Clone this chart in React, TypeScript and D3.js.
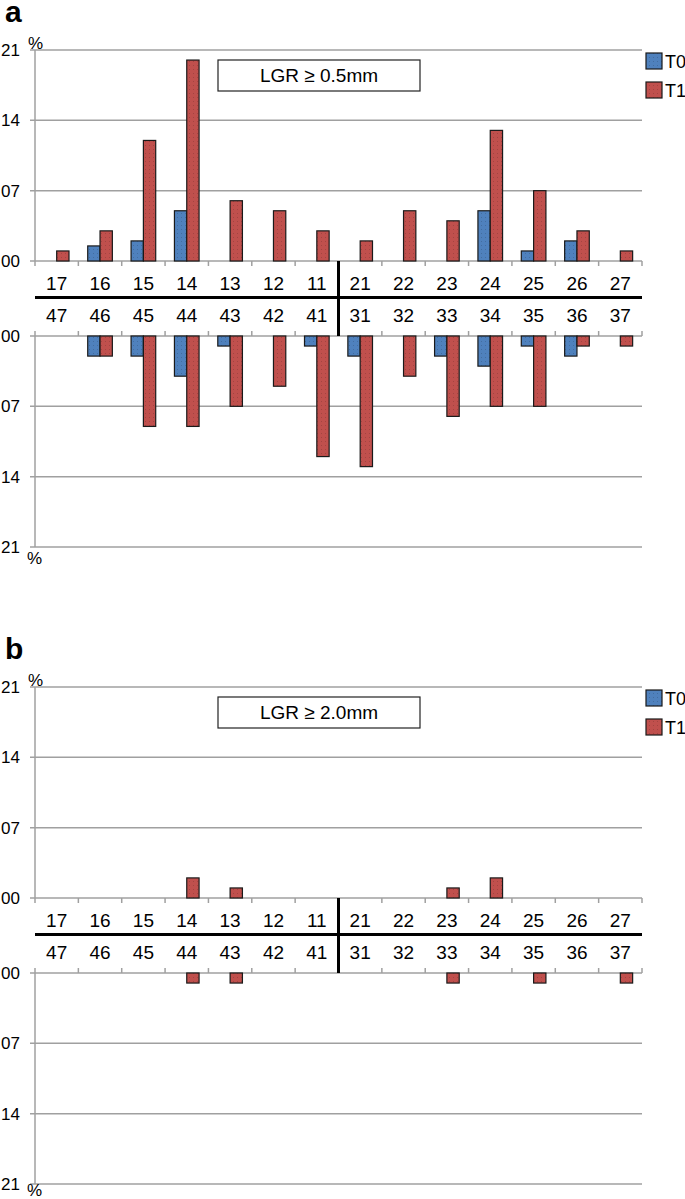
import React, { useEffect, useRef } from "react";
import * as d3 from "d3";

// tooth numbers (upper row / lower row of the table)
const upperTeeth = ["17", "16", "15", "14", "13", "12", "11", "21", "22", "23", "24", "25", "26", "27"];
const lowerTeeth = ["47", "46", "45", "44", "43", "42", "41", "31", "32", "33", "34", "35", "36", "37"];
const yTicks = [0, 7, 14, 21];
const series = ["T0", "T1"];
const colors = ["#4f81bd", "#c0504d"];

// panel a: LGR >= 0.5mm
const aUpperT0 = [0, 1.5, 2, 5, 0, 0, 0, 0, 0, 0, 5, 1, 2, 0];
const aUpperT1 = [1, 3, 12, 20, 6, 5, 3, 2, 5, 4, 13, 7, 3, 1];
const aLowerT0 = [0, 2, 2, 4, 1, 0, 1, 2, 0, 2, 3, 1, 2, 0];
const aLowerT1 = [0, 2, 9, 9, 7, 5, 12, 13, 4, 8, 7, 7, 1, 1];

// panel b: LGR >= 2.0mm
const bUpperT0 = [0, 0, 0, 0, 0, 0, 0, 0, 0, 0, 0, 0, 0, 0];
const bUpperT1 = [0, 0, 0, 2, 1, 0, 0, 0, 0, 1, 2, 0, 0, 0];
const bLowerT0 = [0, 0, 0, 0, 0, 0, 0, 0, 0, 0, 0, 0, 0, 0];
const bLowerT1 = [0, 0, 0, 1, 1, 0, 0, 0, 0, 1, 0, 1, 0, 1];

const panels = [
  { label: "a", title: "LGR ≥ 0.5mm", top: 50, up: [aUpperT0, aUpperT1], down: [aLowerT0, aLowerT1] },
  { label: "b", title: "LGR ≥ 2.0mm", top: 687, up: [bUpperT0, bUpperT1], down: [bLowerT0, bLowerT1] },
];

const W = 685, H = 1199;
const left = 35, right = 642;
const plotH = 211, tableH = 75;
const font = "'Liberation Sans', Arial, sans-serif";
const grid = "#a0a0a0";

export default function App() {
  const ref = useRef<SVGSVGElement>(null);

  useEffect(() => {
    const svg = d3.select(ref.current);
    svg.selectAll("*").remove();

    // dotted texture like the original excel fills
    const defs = svg.append("defs");
    colors.forEach((c, i) => {
      const p = defs.append("pattern").attr("id", "fill" + i)
        .attr("width", 4).attr("height", 4).attr("patternUnits", "userSpaceOnUse");
      p.append("rect").attr("width", 4).attr("height", 4).attr("fill", c);
      p.append("rect").attr("x", 1).attr("y", 1).attr("width", 1).attr("height", 1)
        .attr("fill", d3.color(c)!.darker(1).toString()).attr("opacity", 0.5);
    });

    const x = d3.scaleBand<number>().domain(d3.range(upperTeeth.length)).range([left, right]);
    const xs = d3.scaleBand().domain(series).range([0, x.bandwidth()]).paddingOuter(0.76);

    panels.forEach((p) => {
      const g = svg.append("g").attr("font-family", font);
      const zero = p.top + plotH;
      const low = zero + tableH;
      const bottom = low + plotH;

      const yUp = d3.scaleLinear().domain([0, 21]).range([zero, p.top]);
      const yDown = d3.scaleLinear().domain([0, 21]).range([low, bottom]);

      // panel letter
      g.append("text").attr("x", 5).attr("y", p.top - 28)
        .attr("font-size", 30).attr("font-weight", "bold").text(p.label);

      [yUp, yDown].forEach((y) => {
        g.append("g").selectAll("line").data(yTicks).join("line")
          .attr("x1", left - 5).attr("x2", right)
          .attr("y1", (d) => y(d)).attr("y2", (d) => y(d))
          .attr("stroke", grid).attr("stroke-width", 1.5);
        g.append("g").selectAll("text").data(yTicks).join("text")
          .attr("x", 20).attr("y", (d) => y(d)).attr("dy", "0.36em")
          .attr("text-anchor", "end").attr("font-size", 17)
          .text((d) => d3.format("02d")(d));
        g.append("line").attr("x1", left).attr("x2", left)
          .attr("y1", y(0)).attr("y2", y(21))
          .attr("stroke", grid).attr("stroke-width", 1.5);
      });

      g.append("text").attr("x", 28).attr("y", p.top - 1.5).attr("font-size", 17).text("%");
      g.append("text").attr("x", 27).attr("y", Math.min(bottom + 17, H - 3)).attr("font-size", 17).text("%");

      // small ticks into the table at tooth boundaries
      const bounds = [...x.domain().map((i) => x(i)!), right];
      g.append("g").selectAll("line").data(bounds).join("line")
        .attr("x1", (d) => d).attr("x2", (d) => d)
        .attr("y1", zero).attr("y2", zero + 5)
        .attr("stroke", grid).attr("stroke-width", 1.5);
      g.append("g").selectAll("line").data(bounds).join("line")
        .attr("x1", (d) => d).attr("x2", (d) => d)
        .attr("y1", low).attr("y2", low - 5)
        .attr("stroke", grid).attr("stroke-width", 1.5);

      // table lines
      g.append("line").attr("x1", left).attr("x2", right)
        .attr("y1", zero + 36.5).attr("y2", zero + 36.5)
        .attr("stroke", "#000").attr("stroke-width", 3);
      g.append("line").attr("x1", x(7)!).attr("x2", x(7)!)
        .attr("y1", zero).attr("y2", low)
        .attr("stroke", "#000").attr("stroke-width", 3);

      g.append("g").selectAll("text").data(upperTeeth).join("text")
        .attr("x", (_, i) => x(i)! + x.bandwidth() / 2).attr("y", zero + 28.5)
        .attr("text-anchor", "middle").attr("font-size", 19).text((d) => d);
      g.append("g").selectAll("text").data(lowerTeeth).join("text")
        .attr("x", (_, i) => x(i)! + x.bandwidth() / 2).attr("y", zero + 60.5)
        .attr("text-anchor", "middle").attr("font-size", 19).text((d) => d);

      // bars
      series.forEach((s, si) => {
        const up = p.up[si].map((v, i) => ({ i, v })).filter((d) => d.v > 0);
        const down = p.down[si].map((v, i) => ({ i, v })).filter((d) => d.v > 0);
        g.append("g").selectAll("rect").data(up).join("rect")
          .attr("x", (d) => x(d.i)! + xs(s)!).attr("width", xs.bandwidth())
          .attr("y", (d) => yUp(d.v)).attr("height", (d) => zero - yUp(d.v))
          .attr("fill", `url(#fill${si})`).attr("stroke", "#1a1a1a").attr("stroke-width", 1.2);
        g.append("g").selectAll("rect").data(down).join("rect")
          .attr("x", (d) => x(d.i)! + xs(s)!).attr("width", xs.bandwidth())
          .attr("y", low).attr("height", (d) => yDown(d.v) - low)
          .attr("fill", `url(#fill${si})`).attr("stroke", "#1a1a1a").attr("stroke-width", 1.2);
      });

      // title box
      g.append("rect").attr("x", 218).attr("y", p.top + 10).attr("width", 202).attr("height", 31)
        .attr("fill", "#fff").attr("stroke", "#222").attr("stroke-width", 1.2);
      g.append("text").attr("x", 319).attr("y", p.top + 32).attr("text-anchor", "middle")
        .attr("font-size", 19).text(p.title);

      // legend
      series.forEach((s, si) => {
        g.append("rect").attr("x", 646).attr("y", p.top + 3 + si * 29).attr("width", 16).attr("height", 16)
          .attr("fill", `url(#fill${si})`).attr("stroke", "#1a1a1a").attr("stroke-width", 1.2);
        g.append("text").attr("x", 665).attr("y", p.top + 17.5 + si * 29)
          .attr("font-size", 18).text(s);
      });
    });
  }, []);

  return (
    <svg ref={ref} width={W} height={H}
      style={{ position: "absolute", left: 0, top: 0, background: "#fff" }} />
  );
}
